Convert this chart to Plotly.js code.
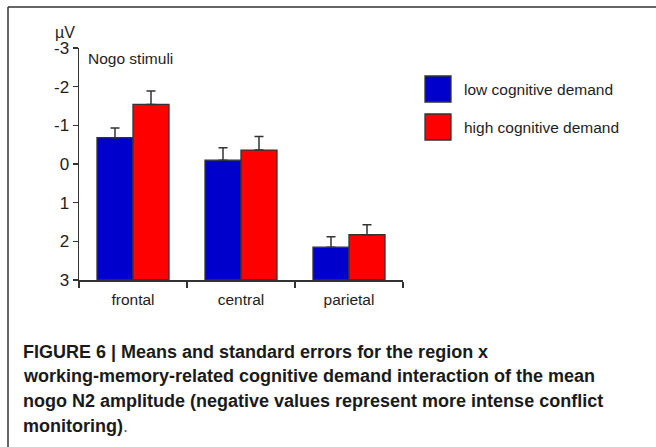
<!DOCTYPE html>
<html>
<head>
<meta charset="utf-8">
<script src="https://cdn.plot.ly/plotly-3.0.1.min.js"></script>
<style>
  html, body { margin: 0; padding: 0; background: #ffffff; }
  #chart { width: 656px; height: 447px; }
</style>
</head>
<body>
<div id="chart"></div>
<script>
// ---- data ----
var regions = ['frontal', 'central', 'parietal'];
var seriesNames = ['low cognitive demand', 'high cognitive demand'];
var lowMeans = [-0.68, -0.10, 2.15];
var highMeans = [-1.54, -0.36, 1.83];
var lowSE = [0.25, 0.32, 0.27];
var highSE = [0.35, 0.35, 0.26];
var seriesColors = ['#0000cc', '#ff0000'];
var yTickVals = [-3, -2, -1, 0, 1, 2, 3];
var yTickText = ['-3', '-2', '-1', '0', '1', '2', '3'];
var axisBottom = 3;
var unitLabel = '\u00b5V';
var panelLabel = 'Nogo stimuli';
var captionLines = [
  '<b>FIGURE 6 | Means and standard errors for the region x</b>',
  '<b>working-memory-related cognitive demand interaction of the mean</b>',
  '<b>nogo N2 amplitude (negative values represent more intense conflict</b>',
  '<b>monitoring)</b><span style="color:#666">.</span>'
];

var FONT = 'Liberation Sans, Arial, Helvetica, sans-serif';
var CAPFONT = 'Liberation Sans, Arial, Helvetica, sans-serif';
var INK = '#1e1e1e';
var LINE = '#333333';

function makeBar(means, se, idx) {
  return {
    type: 'bar',
    name: seriesNames[idx],
    x: regions,
    base: axisBottom,
    y: means.map(function (v) { return v - axisBottom; }),
    marker: { color: seriesColors[idx], line: { color: LINE, width: 1.3 } },
    error_y: {
      type: 'data',
      symmetric: false,
      array: se.map(function () { return 0; }),
      arrayminus: se,
      color: LINE,
      thickness: 1.5,
      width: 4.5
    },
    hoverinfo: 'skip'
  };
}

var data = [makeBar(lowMeans, lowSE, 0), makeBar(highMeans, highSE, 1)];

// plot area geometry helpers (pixels -> paper)
var L = 79, R = 403, T = 48, B = 280;
function px(x) { return (x - L) / (R - L); }
function py(y) { return (B - y) / (B - T); }

var shapes = [
  { type: 'line', xref: 'paper', yref: 'paper', x0: px(8), x1: px(660), y0: py(7), y1: py(7), line: { color: LINE, width: 1.5 } },
  { type: 'line', xref: 'paper', yref: 'paper', x0: px(8), x1: px(8), y0: py(7), y1: py(450), line: { color: LINE, width: 1.5 } }
];
var annotations = [
  { xref: 'paper', yref: 'paper', x: px(77), y: py(33), xanchor: 'right', yanchor: 'middle', text: unitLabel, showarrow: false, font: { family: FONT, size: 16, color: INK } },
  { xref: 'paper', yref: 'paper', x: px(86), y: py(58.5), xanchor: 'left', yanchor: 'middle', text: panelLabel, showarrow: false, font: { family: FONT, size: 15.5, color: INK } }
];
var legendTops = [76, 114];
seriesNames.forEach(function (name, i) {
  var top = legendTops[i];
  shapes.push({ type: 'rect', xref: 'paper', yref: 'paper', x0: px(425), x1: px(451), y0: py(top), y1: py(top + 26), fillcolor: seriesColors[i], line: { color: LINE, width: 1.3 } });
  annotations.push({ xref: 'paper', yref: 'paper', x: px(462), y: py(top + 13), xanchor: 'left', yanchor: 'middle', text: name, showarrow: false, font: { family: FONT, size: 15.5, color: INK } });
});
var captionStart = annotations.length;
var capCenters = [351.5, 376, 401, 425.5];
captionLines.forEach(function (t, i) {
  annotations.push({ xref: 'paper', yref: 'paper', x: px(21), y: py(capCenters[i]), xanchor: 'left', yanchor: 'middle', text: t, showarrow: false, align: 'left', font: { family: CAPFONT, size: 18, color: '#1a1a1a' } });
});

var layout = {
  width: 656,
  height: 447,
  margin: { l: L, r: 656 - R, t: T, b: 447 - B, pad: 0 },
  paper_bgcolor: '#ffffff',
  plot_bgcolor: '#ffffff',
  showlegend: false,
  barmode: 'group',
  bargap: 1 / 3,
  bargroupgap: 0,
  font: { family: FONT, size: 15, color: INK },
  xaxis: {
    type: 'category',
    showgrid: false,
    zeroline: false,
    showline: true,
    linecolor: LINE,
    linewidth: 1.5,
    ticks: 'outside',
    tickson: 'boundaries',
    ticklen: 6,
    tickwidth: 1.3,
    tickcolor: LINE,
    ticklabelstandoff: 5,
    tickfont: { family: FONT, size: 15.5, color: INK },
    range: [-0.5, 2.5]
  },
  yaxis: {
    range: [3, -3],
    showgrid: false,
    zeroline: false,
    showline: true,
    linecolor: LINE,
    linewidth: 1.5,
    ticks: 'outside',
    ticklen: 5,
    tickwidth: 1.3,
    tickcolor: LINE,
    tickvals: yTickVals,
    ticktext: yTickText,
    tickfont: { family: FONT, size: 17, color: INK }
  },
  shapes: shapes,
  annotations: annotations
};

Plotly.newPlot('chart', data, layout, { displayModeBar: false, staticPlot: true }).then(function (gd) {
  // condense the caption horizontally to mimic the condensed caption typeface
  var groups = gd.querySelectorAll('g.annotation');
  var texts = [];
  groups.forEach(function (g) {
    var idx = +g.getAttribute('data-index');
    if (idx >= captionStart) texts[idx - captionStart] = g.querySelector('text.annotation-text');
  });
  if (!texts[1]) return;
  var targetWidth = 611;
  var s = Math.min(1, targetWidth / texts[1].getBBox().width);
  texts.forEach(function (t) {
    if (!t) return;
    var bb = t.getBBox();
    t.setAttribute('transform', 'matrix(' + s + ',0,0,1,' + (bb.x * (1 - s)) + ',0)');
  });
});
</script>
</body>
</html>
